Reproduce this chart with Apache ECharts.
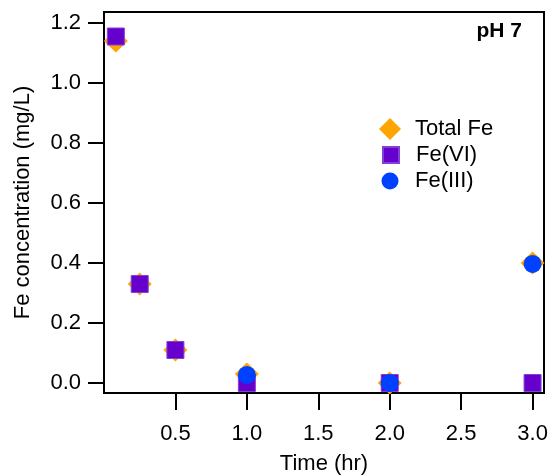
<!DOCTYPE html>
<html>
<head>
<meta charset="utf-8">
<script src="https://cdn.jsdelivr.net/npm/echarts@6/dist/echarts.min.js"></script>
<style>
  html, body { margin: 0; padding: 0; background: #fff; }
  #chart { width: 549px; height: 475px; }
</style>
</head>
<body>
<div id="chart"></div>
<script>
// Sampling times (hours) and measured iron concentrations (mg/L) at pH 7
const timeHr = [0.083, 0.25, 0.5, 1.0, 2.0, 3.0];
const totalFe = [1.14, 0.33, 0.11, 0.03, 0.0, 0.40];
const feVI = [1.155, 0.33, 0.11, 0.0, 0.0, 0.0];
const feIIITime = [1.0, 2.0, 3.0];
const feIII = [0.027, 0.0, 0.397];

// Tick positions
const xTicks = [0.5, 1.0, 1.5, 2.0, 2.5, 3.0];
const yTicks = [0.0, 0.2, 0.4, 0.6, 0.8, 1.0, 1.2];

const FONT = '"Liberation Sans", Arial, Helvetica, sans-serif';
const ORANGE = '#FFA500';
const PURPLE = '#6600CC';
const BLUE = '#0040FF';

const pairs = (xs, ys) => xs.map((x, i) => [x, ys[i]]);

// One legend block per entry so each marker keeps its own size;
// the text is padded so all labels start on the same column.
function legendEntry(name, icon, size, top) {
  const left = 390 - size / 2;
  return {
    orient: 'vertical',
    left: left,
    top: top - 11,
    padding: 0,
    itemWidth: size,
    itemHeight: size,
    data: [{ name: name, icon: icon }],
    textStyle: {
      fontFamily: FONT, fontSize: 22, color: '#000',
      padding: [0, 0, 0, 415 - (left + size + 5)]
    }
  };
}

const chart = echarts.init(document.getElementById('chart'), null, { renderer: 'canvas' });
chart.setOption({
  animation: false,
  backgroundColor: '#fff',
  grid: {
    left: 104, top: 12, right: 5, bottom: 82,
    outerBoundsMode: 'none',
    containLabel: false,
    show: true, borderColor: '#000', borderWidth: 2, backgroundColor: 'transparent'
  },
  title: {
    text: 'pH 7',
    right: 27, top: 21, padding: 0,
    textStyle: { fontFamily: FONT, fontSize: 21, fontWeight: 'bold', color: '#000' }
  },
  legend: [
    legendEntry('Total Fe', 'diamond', 22, 129),
    legendEntry('Fe(VI)', 'rect', 16, 155),
    legendEntry('Fe(III)', 'circle', 17, 181)
  ],
  xAxis: {
    type: 'value',
    min: 0, max: 3.08,
    name: 'Time (hr)',
    nameLocation: 'middle',
    nameGap: 60,
    nameTextStyle: { fontFamily: FONT, fontSize: 22, color: '#000' },
    axisLine: { show: true, onZero: false, lineStyle: { color: '#000', width: 2 } },
    axisTick: { show: true, inside: false, length: 17, customValues: xTicks, lineStyle: { color: '#000', width: 2 } },
    axisLabel: {
      customValues: xTicks, margin: 30,
      fontFamily: FONT, fontSize: 22, color: '#000',
      formatter: v => v.toFixed(1)
    },
    splitLine: { show: false }
  },
  yAxis: {
    type: 'value',
    min: -0.0333, max: 1.2367,
    name: 'Fe concentration (mg/L)',
    nameLocation: 'middle',
    nameRotate: 90,
    nameGap: 70,
    nameTextStyle: { fontFamily: FONT, fontSize: 22, color: '#000' },
    axisLine: { show: true, onZero: false, lineStyle: { color: '#000', width: 2 } },
    axisTick: { show: true, inside: false, length: 16, customValues: yTicks, lineStyle: { color: '#000', width: 2 } },
    axisLabel: {
      customValues: yTicks, margin: 23,
      fontFamily: FONT, fontSize: 22, color: '#000',
      formatter: v => v.toFixed(1)
    },
    splitLine: { show: false }
  },
  series: [
    {
      name: 'Total Fe', type: 'scatter', symbol: 'diamond', symbolSize: [24, 23],
      itemStyle: { color: ORANGE, opacity: 1 },
      data: pairs(timeHr, totalFe), z: 2
    },
    {
      name: 'Fe(VI)', type: 'scatter', symbol: 'rect', symbolSize: 17,
      itemStyle: { color: PURPLE, borderColor: '#8240d8', borderWidth: 1, opacity: 1 },
      data: pairs(timeHr, feVI), z: 3
    },
    {
      name: 'Fe(III)', type: 'scatter', symbol: 'circle', symbolSize: 18,
      itemStyle: { color: BLUE, opacity: 1 },
      data: pairs(feIIITime, feIII), z: 4
    }
  ]
});
</script>
</body>
</html>
